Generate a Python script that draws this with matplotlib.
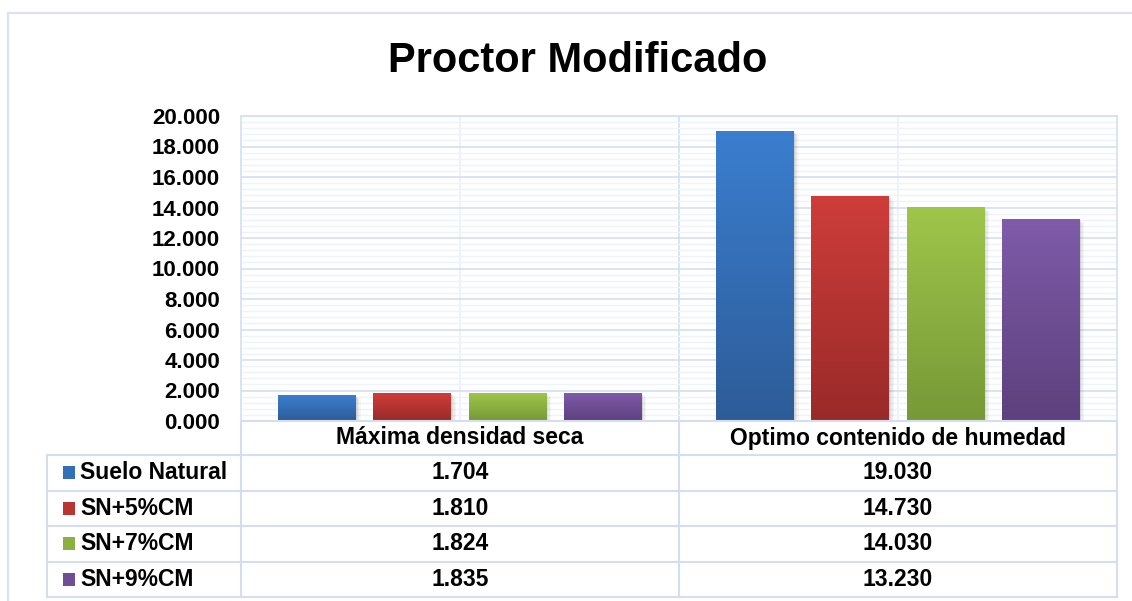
import numpy as np
import matplotlib
matplotlib.use("Agg")
import matplotlib.pyplot as plt
from matplotlib.colors import LinearSegmentedColormap
from matplotlib.patches import Rectangle
from matplotlib.lines import Line2D
import matplotlib.patheffects as pe
from matplotlib.ticker import MultipleLocator, FuncFormatter

# ---- data ----
title = "Proctor Modificado"
categories = ["Máxima densidad seca", "Optimo contenido de humedad"]
series_names = ["Suelo Natural", "SN+5%CM", "SN+7%CM", "SN+9%CM"]
suelo_natural = [1.704, 19.030]
sn_5cm = [1.810, 14.730]
sn_7cm = [1.824, 14.030]
sn_9cm = [1.835, 13.230]
series_values = [suelo_natural, sn_5cm, sn_7cm, sn_9cm]
y_ticks = [0, 2, 4, 6, 8, 10, 12, 14, 16, 18, 20]

# colors (top, bottom) of gradients
top_colors = ["#3B7ECF", "#CE3D3A", "#9FC64B", "#7F5BA9"]
bottom_colors = ["#2D5C98", "#992A29", "#779837", "#5D407D"]
mid_colors = ["#3470B8", "#B83533", "#8BB041", "#6E4E94"]

plt.rcParams['font.family'] = ['Liberation Sans', 'DejaVu Sans']
plt.rcParams['font.weight'] = 'bold'

W, H = 1132, 601
fig = plt.figure(figsize=(W / 100, H / 100), dpi=100)
fig.patch.set_facecolor("white")

def fx(x):
    return x / W

def fy(y):
    return 1 - y / H

# plot area in pixels
L, R, T, B = 241, 1117, 116, 421
ax = fig.add_axes([fx(L), fy(B), fx(R) - fx(L), fy(T) - fy(B)])

grid_major = "#D3DFF0"
grid_minor = "#EEF3FA"
border = "#D3DFF0"

n = len(series_names)
x = np.arange(len(categories))
step = 0.217
bw = 0.178
shadow = [pe.SimplePatchShadow(offset=(o, -o), shadow_rgbFace="#707070", alpha=a)
          for o, a in [(3.0, 0.06), (2.2, 0.08), (1.4, 0.10), (0.7, 0.10)]]
for i, (vals, tc, bc) in enumerate(zip(series_values, top_colors, bottom_colors)):
    offs = (i - (n - 1) / 2) * step
    bars = ax.bar(x + offs, vals, width=bw, color=bc, zorder=3, linewidth=0)
    cmap = LinearSegmentedColormap.from_list("g%d" % i, [bc, tc])
    grad = np.linspace(0, 1, 256).reshape(-1, 1)
    for rect in bars:
        rect.set_path_effects(shadow + [pe.Normal()])
        x0, y0 = rect.get_xy()
        w, h = rect.get_width(), rect.get_height()
        im = ax.imshow(grad, extent=[x0, x0 + w, y0, y0 + h], origin="lower",
                       aspect="auto", cmap=cmap, zorder=4, interpolation="bilinear")
        im.set_clip_path(rect)

ax.set_xlim(-0.5, len(categories) - 0.5)
ax.set_ylim(y_ticks[0], y_ticks[-1])
ax.set_yticks(y_ticks)
ax.yaxis.set_minor_locator(MultipleLocator(0.4))
ax.yaxis.set_major_formatter(FuncFormatter(lambda v, p: "{:.3f}".format(v)))
ax.grid(axis="y", which="major", color=grid_major, linewidth=1.2, zorder=1)
ax.grid(axis="y", which="minor", color=grid_minor, linewidth=1.0, zorder=0.9)
for xc in x:
    ax.axvline(xc, color=grid_minor, linewidth=1.5, zorder=1)
for xb in np.arange(0.5, len(categories) - 0.5, 1):
    ax.axvline(xb, color=grid_major, linewidth=1.2, zorder=1)
ax.set_xticks([])
ax.tick_params(axis="y", which="both", length=0, pad=15, labelsize=16)
for lab in ax.get_yticklabels():
    lab.set_fontweight("bold")
for s in ax.spines.values():
    s.set_color(border)
    s.set_linewidth(1.2)

# ---- title ----
fig.text(fx(578), fy(61), title, ha="center", va="center", fontsize=30, fontweight="bold")

# ---- outer chart border ----
fig.add_artist(Line2D([fx(8), fx(8)], [fy(13), fy(601)], color="#D9E3F0", linewidth=1.5))
fig.add_artist(Line2D([fx(8), fx(1132)], [fy(13), fy(13)], color="#D9E3F0", linewidth=1.5))

# ---- data table ----
row_edges = [421, 455, 490.5, 526, 561.5, 597]
tl = "#D3DFF0"
fig.add_artist(Line2D([fx(L), fx(R)], [fy(row_edges[0])] * 2, color=tl, linewidth=1.5))
for ye in row_edges[1:]:
    fig.add_artist(Line2D([fx(47), fx(R)], [fy(ye)] * 2, color=tl, linewidth=1.5))
fig.add_artist(Line2D([fx(47)] * 2, [fy(row_edges[1]), fy(row_edges[-1])], color=tl, linewidth=1.5))
col_x = [L + (R - L) * k / len(categories) for k in range(len(categories) + 1)]
for xe in col_x:
    fig.add_artist(Line2D([fx(xe)] * 2, [fy(row_edges[0]), fy(row_edges[-1])], color=tl, linewidth=1.5))

# header
for k, cat in enumerate(categories):
    xc = (col_x[k] + col_x[k + 1]) / 2
    yc = (row_edges[0] + row_edges[1]) / 2
    fig.text(fx(xc), fy(yc), cat, ha="center", va="center", fontsize=16.5, fontweight="bold")

# rows
for i, (name, vals) in enumerate(zip(series_names, series_values)):
    yc = (row_edges[i + 1] + row_edges[i + 2]) / 2
    fig.add_artist(Rectangle((fx(63), fy(yc + 6.5)), fx(12), 13 / H,
                             facecolor=mid_colors[i], edgecolor="none"))
    fig.text(fx(80), fy(yc), name, ha="left", va="center", fontsize=16.5, fontweight="bold")
    for k, v in enumerate(vals):
        xc = (col_x[k] + col_x[k + 1]) / 2
        fig.text(fx(xc), fy(yc), "{:.3f}".format(v), ha="center", va="center",
                 fontsize=16.5, fontweight="bold")

fig.savefig("out.png", dpi=100, facecolor="white")
